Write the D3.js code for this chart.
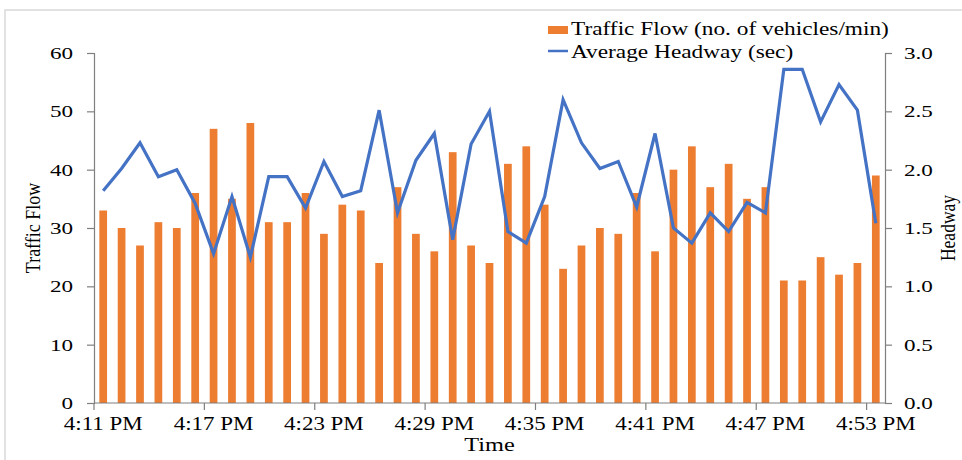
<!DOCTYPE html>
<html>
<head>
<meta charset="utf-8">
<script src="https://cdn.jsdelivr.net/npm/d3@7"></script>
<style>
  body { margin: 0; background: #fff; }
  text { font-family: "Liberation Serif", "Times New Roman", serif; fill: #000; }
</style>
</head>
<body>
<div id="Area"></div>
<script>
// minutes 4:11 PM .. 4:53 PM
var times = d3.range(11, 54).map(function (m) { return "4:" + m + " PM"; });
var flow = [33, 30, 27, 31, 30, 36, 47, 35, 48, 31, 31, 36, 29, 34, 33, 24, 37, 29, 26, 43, 27, 24,
  41, 44, 34, 23, 27, 30, 29, 36, 26, 40, 44, 37, 41, 35, 37, 21, 21, 25, 22, 24, 39];
var headway = [1.82, 2.01, 2.23, 1.94, 2.00, 1.71, 1.28, 1.77, 1.25, 1.94, 1.94, 1.67, 2.07, 1.77, 1.82, 2.51,
  1.63, 2.08, 2.31, 1.40, 2.22, 2.50, 1.47, 1.37, 1.77, 2.60, 2.23, 2.01, 2.07, 1.68, 2.31,
  1.50, 1.37, 1.63, 1.47, 1.72, 1.63, 2.86, 2.86, 2.41, 2.73, 2.51, 1.54];
var leftTicks = [0, 10, 20, 30, 40, 50, 60];
var rightTicks = [0, 0.5, 1.0, 1.5, 2.0, 2.5, 3.0];
var labelTimes = ["4:11 PM", "4:17 PM", "4:23 PM", "4:29 PM", "4:35 PM", "4:41 PM", "4:47 PM", "4:53 PM"];

var W = 962, H = 460;
var margin = { top: 53, right: 77, bottom: 57, left: 94 },
  width = W - margin.left - margin.right,
  height = H - margin.top - margin.bottom;
var FS = "17.5px", WIDEN = 1.32;

// the picture is wider than its fonts: stretch horizontal text
function widen(sel, k) {
  sel.each(function () {
    var L = this.getComputedTextLength();
    d3.select(this).attr("textLength", L * k).attr("lengthAdjust", "spacingAndGlyphs");
  });
}

var svg = d3.select("#Area").append("svg")
  .attr("width", W)
  .attr("height", H);

// faint frame
svg.append("rect")
  .attr("x", 5).attr("y", 10)
  .attr("width", W + 10).attr("height", H + 10)
  .attr("fill", "none")
  .attr("stroke", "#d9d9d9")
  .attr("stroke-width", 1.5);

var g = svg.append("g")
  .attr("transform", "translate(" + margin.left + "," + margin.top + ")");

var x = d3.scaleBand().domain(times).range([0, width]).paddingInner(0.58).paddingOuter(0.29);
var step = x.step();
var y = d3.scaleLinear().domain([0, 60]).range([height, 0]);
var y2 = d3.scaleLinear().domain([0, 3]).range([height, 0]);

// bars
g.selectAll(".bar")
  .data(flow)
  .enter().append("rect")
  .attr("class", "bar")
  .attr("x", function (d, i) { return x(times[i]); })
  .attr("y", function (d) { return y(d); })
  .attr("width", x.bandwidth())
  .attr("height", function (d) { return height - y(d); })
  .attr("fill", "#ED7D31");

// line
var line = d3.line()
  .x(function (d, i) { return x(times[i]) + x.bandwidth() / 2; })
  .y(function (d) { return y2(d); });
g.append("path")
  .datum(headway)
  .attr("d", line)
  .attr("fill", "none")
  .attr("stroke", "#4472C4")
  .attr("stroke-width", 3.2)
  .attr("stroke-linejoin", "miter");

// axes
var axisColor = "#7f7f7f";
var yAxis = g.append("g")
  .call(d3.axisLeft(y).tickValues(leftTicks).tickSize(7).tickPadding(14));
var yAxis2 = g.append("g")
  .attr("transform", "translate(" + width + ",0)")
  .call(d3.axisRight(y2).tickValues(rightTicks).tickSize(7).tickPadding(12).tickFormat(d3.format(".1f")));

// x axis: ticks between categories, labels centred on category
var xAxis = g.append("g").attr("transform", "translate(0," + height + ")");
xAxis.append("line").attr("x1", 0).attr("x2", width).attr("stroke", axisColor).attr("stroke-width", 1.2);
xAxis.selectAll(".xt")
  .data(labelTimes)
  .enter().append("line")
  .attr("x1", function (d) { return x(d) - (step - x.bandwidth()) / 2; })
  .attr("x2", function (d) { return x(d) - (step - x.bandwidth()) / 2; })
  .attr("y1", 0).attr("y2", 7)
  .attr("stroke", axisColor).attr("stroke-width", 1.2);
xAxis.selectAll(".xl")
  .data(labelTimes)
  .enter().append("text")
  .attr("class", "xl")
  .attr("x", function (d) { return x(d) + x.bandwidth() / 2; })
  .attr("y", 27)
  .attr("text-anchor", "middle")
  .style("font-size", "18.5px")
  .text(function (d) { return d; });
widen(xAxis.selectAll(".xl"), 1.24);

[yAxis, yAxis2].forEach(function (a) {
  a.select(".domain").attr("stroke", axisColor).attr("stroke-width", 1.2);
  a.selectAll(".tick line").attr("stroke", axisColor).attr("stroke-width", 1.2);
  a.selectAll(".tick text").style("font-size", FS).attr("font-family", null).attr("fill", "#000");
  widen(a.selectAll(".tick text"), WIDEN);
});

// titles
var tTime = svg.append("text")
  .attr("x", margin.left + width / 2).attr("y", 451)
  .attr("text-anchor", "middle")
  .style("font-size", "18px")
  .text("Time");
widen(tTime, 1.35);
svg.append("text")
  .attr("transform", "translate(40," + (margin.top + height / 2) + ")scale(1.15,1)rotate(-90)")
  .attr("text-anchor", "middle")
  .style("font-size", "18px")
  .text("Traffic Flow");
svg.append("text")
  .attr("transform", "translate(955," + (margin.top + height / 2) + ")scale(1.15,1)rotate(-90)")
  .attr("text-anchor", "middle")
  .style("font-size", "17.5px")
  .text("Headway");

// legend
var leg = svg.append("g").attr("transform", "translate(548,0)");
leg.append("rect").attr("x", 0).attr("y", 26).attr("width", 20).attr("height", 8).attr("fill", "#ED7D31");
var l1 = leg.append("text").attr("x", 23).attr("y", 35).style("font-size", "18.5px").text("Traffic Flow (no. of vehicles/min)");
leg.append("line").attr("x1", 0).attr("x2", 20).attr("y1", 51).attr("y2", 51).attr("stroke", "#4472C4").attr("stroke-width", 2.5);
var l2 = leg.append("text").attr("x", 23).attr("y", 58).style("font-size", "18.5px").text("Average Headway (sec)");
widen(l1, 1.26);
widen(l2, 1.26);
</script>
</body>
</html>
